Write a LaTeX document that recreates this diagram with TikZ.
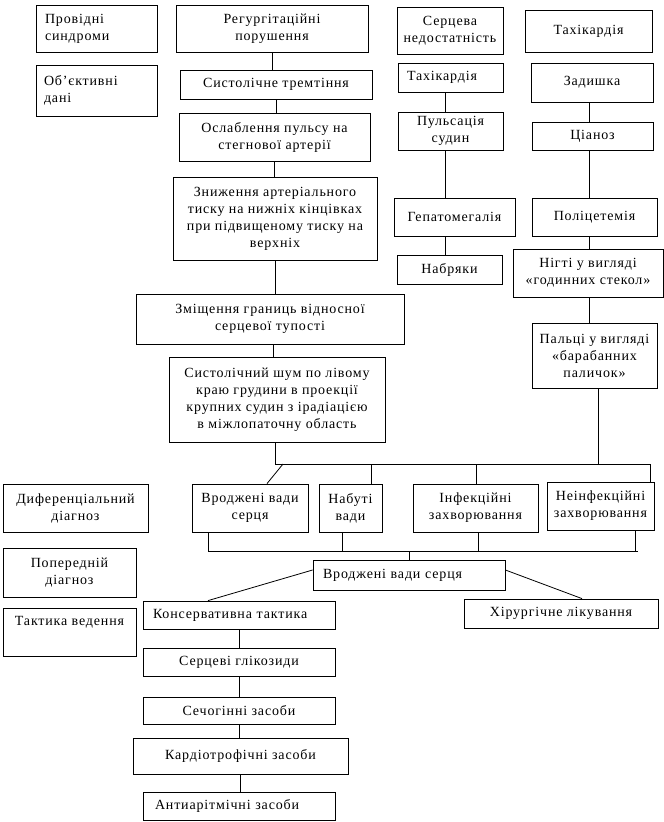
\documentclass[tikz,border=0pt]{standalone}
\usepackage{fontspec}
\setmainfont[LetterSpace=6]{Liberation Serif}
\tikzset{
  box/.style={draw, line width=0.8pt, inner sep=2pt, font=\fontsize{14}{17}\selectfont},
  ln/.style={line width=0.8pt}
}
\newcommand\B[7][align=center]{%
  \node[box,#1,minimum width={(#5-#3)*1pt},minimum height={(#6-#4)*1pt}] (#2) at ({(#3+#5)/2},{(#4+#6)/2}) {#7};}
\begin{document}
\begin{tikzpicture}[x=1pt,y=-1pt]
\useasboundingbox[fill=white] (0,0) rectangle (664,822);
% left column labels
\B[align=left,text width=103pt]{prov}{36}{5}{157}{52}{Провідні\\синдроми}
\B[align=left,text width=105pt]{obj}{36}{65}{157}{116}{Об’єктивні\\дані}
% central chain
\B{reg}{176}{5}{368}{52}{Регургітаційні\\порушення}
\B{sys}{180}{70}{372}{99}{Систолічне тремтіння}
\B{osl}{179}{113}{370}{161}{Ослаблення пульсу на\\стегнової артерії}
\B{zn}{173}{177}{377}{260}{Зниження артеріального\\тиску на нижніх кінцівках\\при підвищеному тиску на\\верхніх}
\B{zm}{136}{294}{404}{344}{Зміщення границь відносної\\серцевої тупості}
\B{shum}{169}{357}{385}{442}{Систолічний шум по лівому\\краю грудини в проекції\\крупних судин з ірадіацією\\в міжлопаточну область}
% heart failure column
\B{serc}{397}{7}{503}{54}{Серцева\\недостатність}
\B[align=left,text width=87pt]{tah2}{398}{63}{503}{92}{Тахікардія}
\B{puls}{398}{112}{503}{150}{Пульсація\\судин}
\B{gep}{394}{198}{515}{236}{Гепатомегалія}
\B{nabr}{397}{255}{502}{284}{Набряки}
% tachycardia column
\B{tah1}{525}{10}{652}{52}{Тахікардія}
\B{zad}{531}{63}{653}{102}{Задишка}
\B{cian}{532}{122}{653}{150}{Ціаноз}
\B{pol}{532}{198}{657}{236}{Поліцетемія}
\B{nig}{513}{249}{663}{297}{Нігті у вигляді\\«годинних стекол»}
\B{pal}{532}{323}{657}{388}{Пальці у вигляді\\«барабанних\\паличок»}
% differential diagnosis row
\B{dif}{3}{484}{148}{532}{Диференціальний\\діагноз}
\B{vr1}{192}{484}{308}{532}{Вроджені вади\\серця}
\B{nab}{319}{484}{382}{532}{Набуті\\вади}
\B{inf}{413}{484}{538}{532}{Інфекційні\\захворювання}
\B{ninf}{547}{482}{654}{530}{Неінфекційні\\захворювання}
% preliminary diagnosis / tactics
\B{pop}{3}{548}{136}{597}{Попередній\\діагноз}
\B{takt}{3}{608}{136}{656}{Тактика ведення\\\strut}
\B[align=left,text width=172pt]{vr2}{313}{560}{505}{590}{Вроджені вади серця}
\B[align=left,text width=172pt]{kons}{143}{601}{335}{629}{Консервативна тактика}
\B{hir}{464}{599}{658}{628}{Хірургічне лікування}
\B{glik}{143}{648}{335}{676}{Серцеві глікозиди}
\B{sech}{143}{697}{335}{724}{Сечогінні засоби}
\B{kard}{133}{738}{348}{774}{Кардіотрофічні засоби}
\B[align=left,text width=168pt]{anti}{143}{792}{335}{820}{Антиарітмічні засоби}
% connectors: central chain
\draw[ln] (reg.south) -- (reg.south |- sys.north);
\draw[ln] (sys.south) -- (sys.south |- osl.north);
\draw[ln] (osl.south) -- (osl.south |- zn.north);
\draw[ln] (zn.south) -- (zn.south |- zm.north);
\coordinate (zx) at (273,0);
\draw[ln] (zx |- zm.south) -- (zx |- shum.north);
% heart failure chain
\coordinate (c1) at (445,0);
\draw[ln] (c1 |- tah2.south) -- (c1 |- puls.north);
\draw[ln] (c1 |- puls.south) -- (c1 |- gep.north);
\draw[ln] (c1 |- gep.south) -- (c1 |- nabr.north);
% tachycardia chain
\coordinate (c2) at (589,0);
\draw[ln] (c2 |- zad.south) -- (c2 |- cian.north);
\draw[ln] (c2 |- cian.south) -- (c2 |- pol.north);
\draw[ln] (c2 |- pol.south) -- (c2 |- nig.north);
\draw[ln] (c2 |- nig.south) -- (c2 |- pal.north);
% upper bus
\coordinate (bx) at (275,0);
\coordinate (br) at (650,464);
\draw[ln] (bx |- shum.south) -- (bx |- br) -- (br) -- (br |- ninf.north);
\coordinate (px) at (598,0);
\draw[ln] (px |- pal.south) -- (px |- br);
\coordinate (t1) at (371,464);
\coordinate (t2) at (476,464);
\draw[ln] (t1) -- (t1 |- nab.north);
\draw[ln] (t2) -- (t2 |- inf.north);
\coordinate (d1) at (283,464);
\coordinate (d2) at (267,0);
\draw[ln] (d1) -- (d2 |- vr1.north);
% lower bus
\coordinate (b1) at (208,551);
\coordinate (b2) at (638,551);
\draw[ln] (b1 |- vr1.south) -- (b1) -- (b2);
\coordinate (u1) at (342,551);
\coordinate (u2) at (478,551);
\coordinate (u3) at (635,551);
\draw[ln] (u1 |- nab.south) -- (u1);
\draw[ln] (u2 |- inf.south) -- (u2);
\draw[ln] (u3 |- ninf.south) -- (u3);
\draw[ln] (vr2.north) -- (vr2.north |- b1);
% branches to treatment
\coordinate (k1) at (208,0);
\coordinate (h1) at (582,0);
\draw[ln] ([yshift=5pt]vr2.west) -- (k1 |- kons.north);
\draw[ln] ([yshift=5pt]vr2.east) -- (h1 |- hir.north);
% conservative chain
\draw[ln] (kons.south) -- (kons.south |- glik.north);
\draw[ln] (glik.south) -- (glik.south |- sech.north);
\draw[ln] (sech.south) -- (sech.south |- kard.north);
\draw[ln] (kard.south) -- (kard.south |- anti.north);
\end{tikzpicture}
\end{document}
